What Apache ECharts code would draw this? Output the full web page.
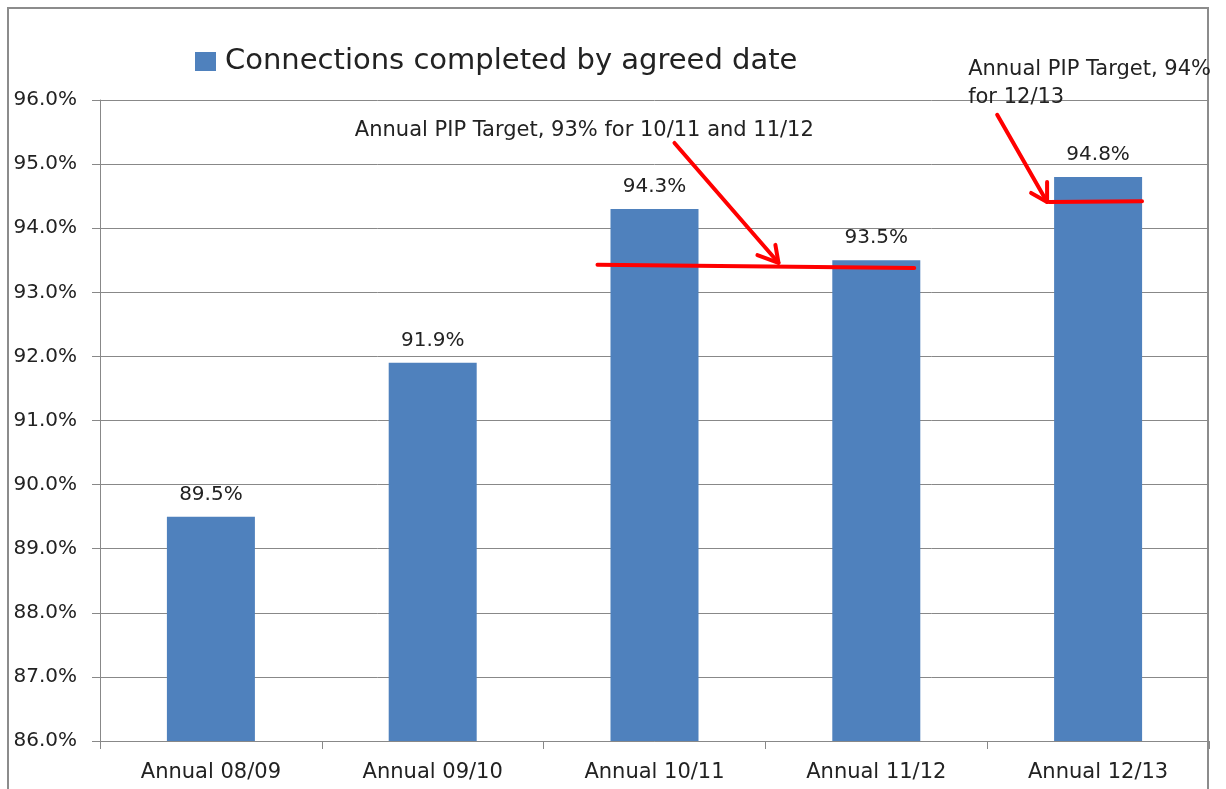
<!DOCTYPE html>
<html>
<head>
<meta charset="utf-8">
<script src="https://cdn.jsdelivr.net/npm/echarts@6/dist/echarts.min.js"></script>
<style>
  html, body { margin: 0; padding: 0; background: #fff; }
  #chart { width: 1226px; height: 789px; }
</style>
</head>
<body>
<div id="chart"></div>
<script>
// categories and values
const categories = ['Annual 08/09', 'Annual 09/10', 'Annual 10/11', 'Annual 11/12', 'Annual 12/13']
const completed = [89.5, 91.9, 94.3, 93.5, 94.8]
const seriesName = 'Connections completed by agreed date'

// hand drawn target marks, x in category units (0..5), y in %
const target1 = [[2.243, 93.43], [3.671, 93.38]]
const target2 = [[4.279, 94.41], [4.698, 94.42]]
const arrow1Shaft = [[2.59, 95.33], [3.059, 93.46]]
const arrow1Head = [[2.964, 93.58], [3.059, 93.46], [3.045, 93.74]]
const arrow2Shaft = [[4.045, 95.77], [4.27, 94.41]]
const arrow2Head = [[4.198, 94.55], [4.27, 94.41], [4.27, 94.72]]
const note1 = 'Annual PIP Target, 93% for 10/11 and 11/12'
const note2 = 'Annual PIP Target, 94%\nfor 12/13'
const notes = [[1.149, 95.53, note1], [3.914, 96.26, note2]]

const font = '"DejaVu Sans", sans-serif'
const chart = echarts.init(document.getElementById('chart'))

const option = {
  animation: false,
  textStyle: { fontFamily: font },
  graphic: [
    {
      type: 'rect',
      shape: { x: 8, y: 8, width: 1200, height: 800 },
      style: { fill: 'none', stroke: '#8c8c8c', lineWidth: 2 },
      silent: true,
      z: -10
    }
  ],
  legend: {
    data: [seriesName],
    left: 190,
    top: 42,
    icon: 'rect',
    itemWidth: 21,
    itemHeight: 19,
    textStyle: { fontSize: 29, color: '#222', fontFamily: font, padding: [0, 0, 0, 4] }
  },
  grid: { left: 100, right: 17, top: 100, bottom: 48 },
  xAxis: [
    {
      type: 'category',
      data: categories,
      axisLine: { lineStyle: { color: '#888' } },
      axisTick: { show: true, length: 8, lineStyle: { color: '#888' } },
      axisLabel: { fontSize: 21, color: '#222', margin: 21 }
    },
    { type: 'value', min: 0, max: 5, show: false }
  ],
  yAxis: {
    type: 'value',
    min: 86,
    max: 96,
    interval: 1,
    axisLine: { show: true, lineStyle: { color: '#888' } },
    axisTick: { show: true, length: 8, lineStyle: { color: '#888' } },
    splitLine: { lineStyle: { color: '#888' } },
    axisLabel: {
      fontSize: 20,
      color: '#222',
      margin: 23,
      formatter: (v) => v.toFixed(1) + '%'
    }
  },
  series: [
    {
      name: seriesName,
      type: 'bar',
      data: completed,
      barWidth: 88,
      itemStyle: { color: '#4F81BD' },
      label: {
        show: true,
        position: 'top',
        distance: 12,
        fontSize: 20,
        color: '#222',
        formatter: (p) => p.value.toFixed(1) + '%'
      }
    },
    {
      name: 'marks',
      type: 'lines',
      coordinateSystem: 'cartesian2d',
      xAxisIndex: 1,
      polyline: true,
      silent: true,
      lineStyle: { color: '#FF0000', width: 4, opacity: 1, cap: 'round', join: 'round' },
      data: [
        { coords: target1 },
        { coords: target2 },
        { coords: arrow1Shaft },
        { coords: arrow1Head },
        { coords: arrow2Shaft },
        { coords: arrow2Head }
      ],
      z: 5
    },
    {
      name: 'notes',
      type: 'scatter',
      xAxisIndex: 1,
      clip: false,
      symbolSize: 0,
      silent: true,
      itemStyle: { opacity: 1 },
      data: notes,
      label: {
        show: true,
        position: 'right',
        distance: 0,
        fontSize: 21,
        lineHeight: 28,
        color: '#222',
        formatter: (p) => p.value[2]
      }
    }
  ]
}

chart.setOption(option)
</script>
</body>
</html>
